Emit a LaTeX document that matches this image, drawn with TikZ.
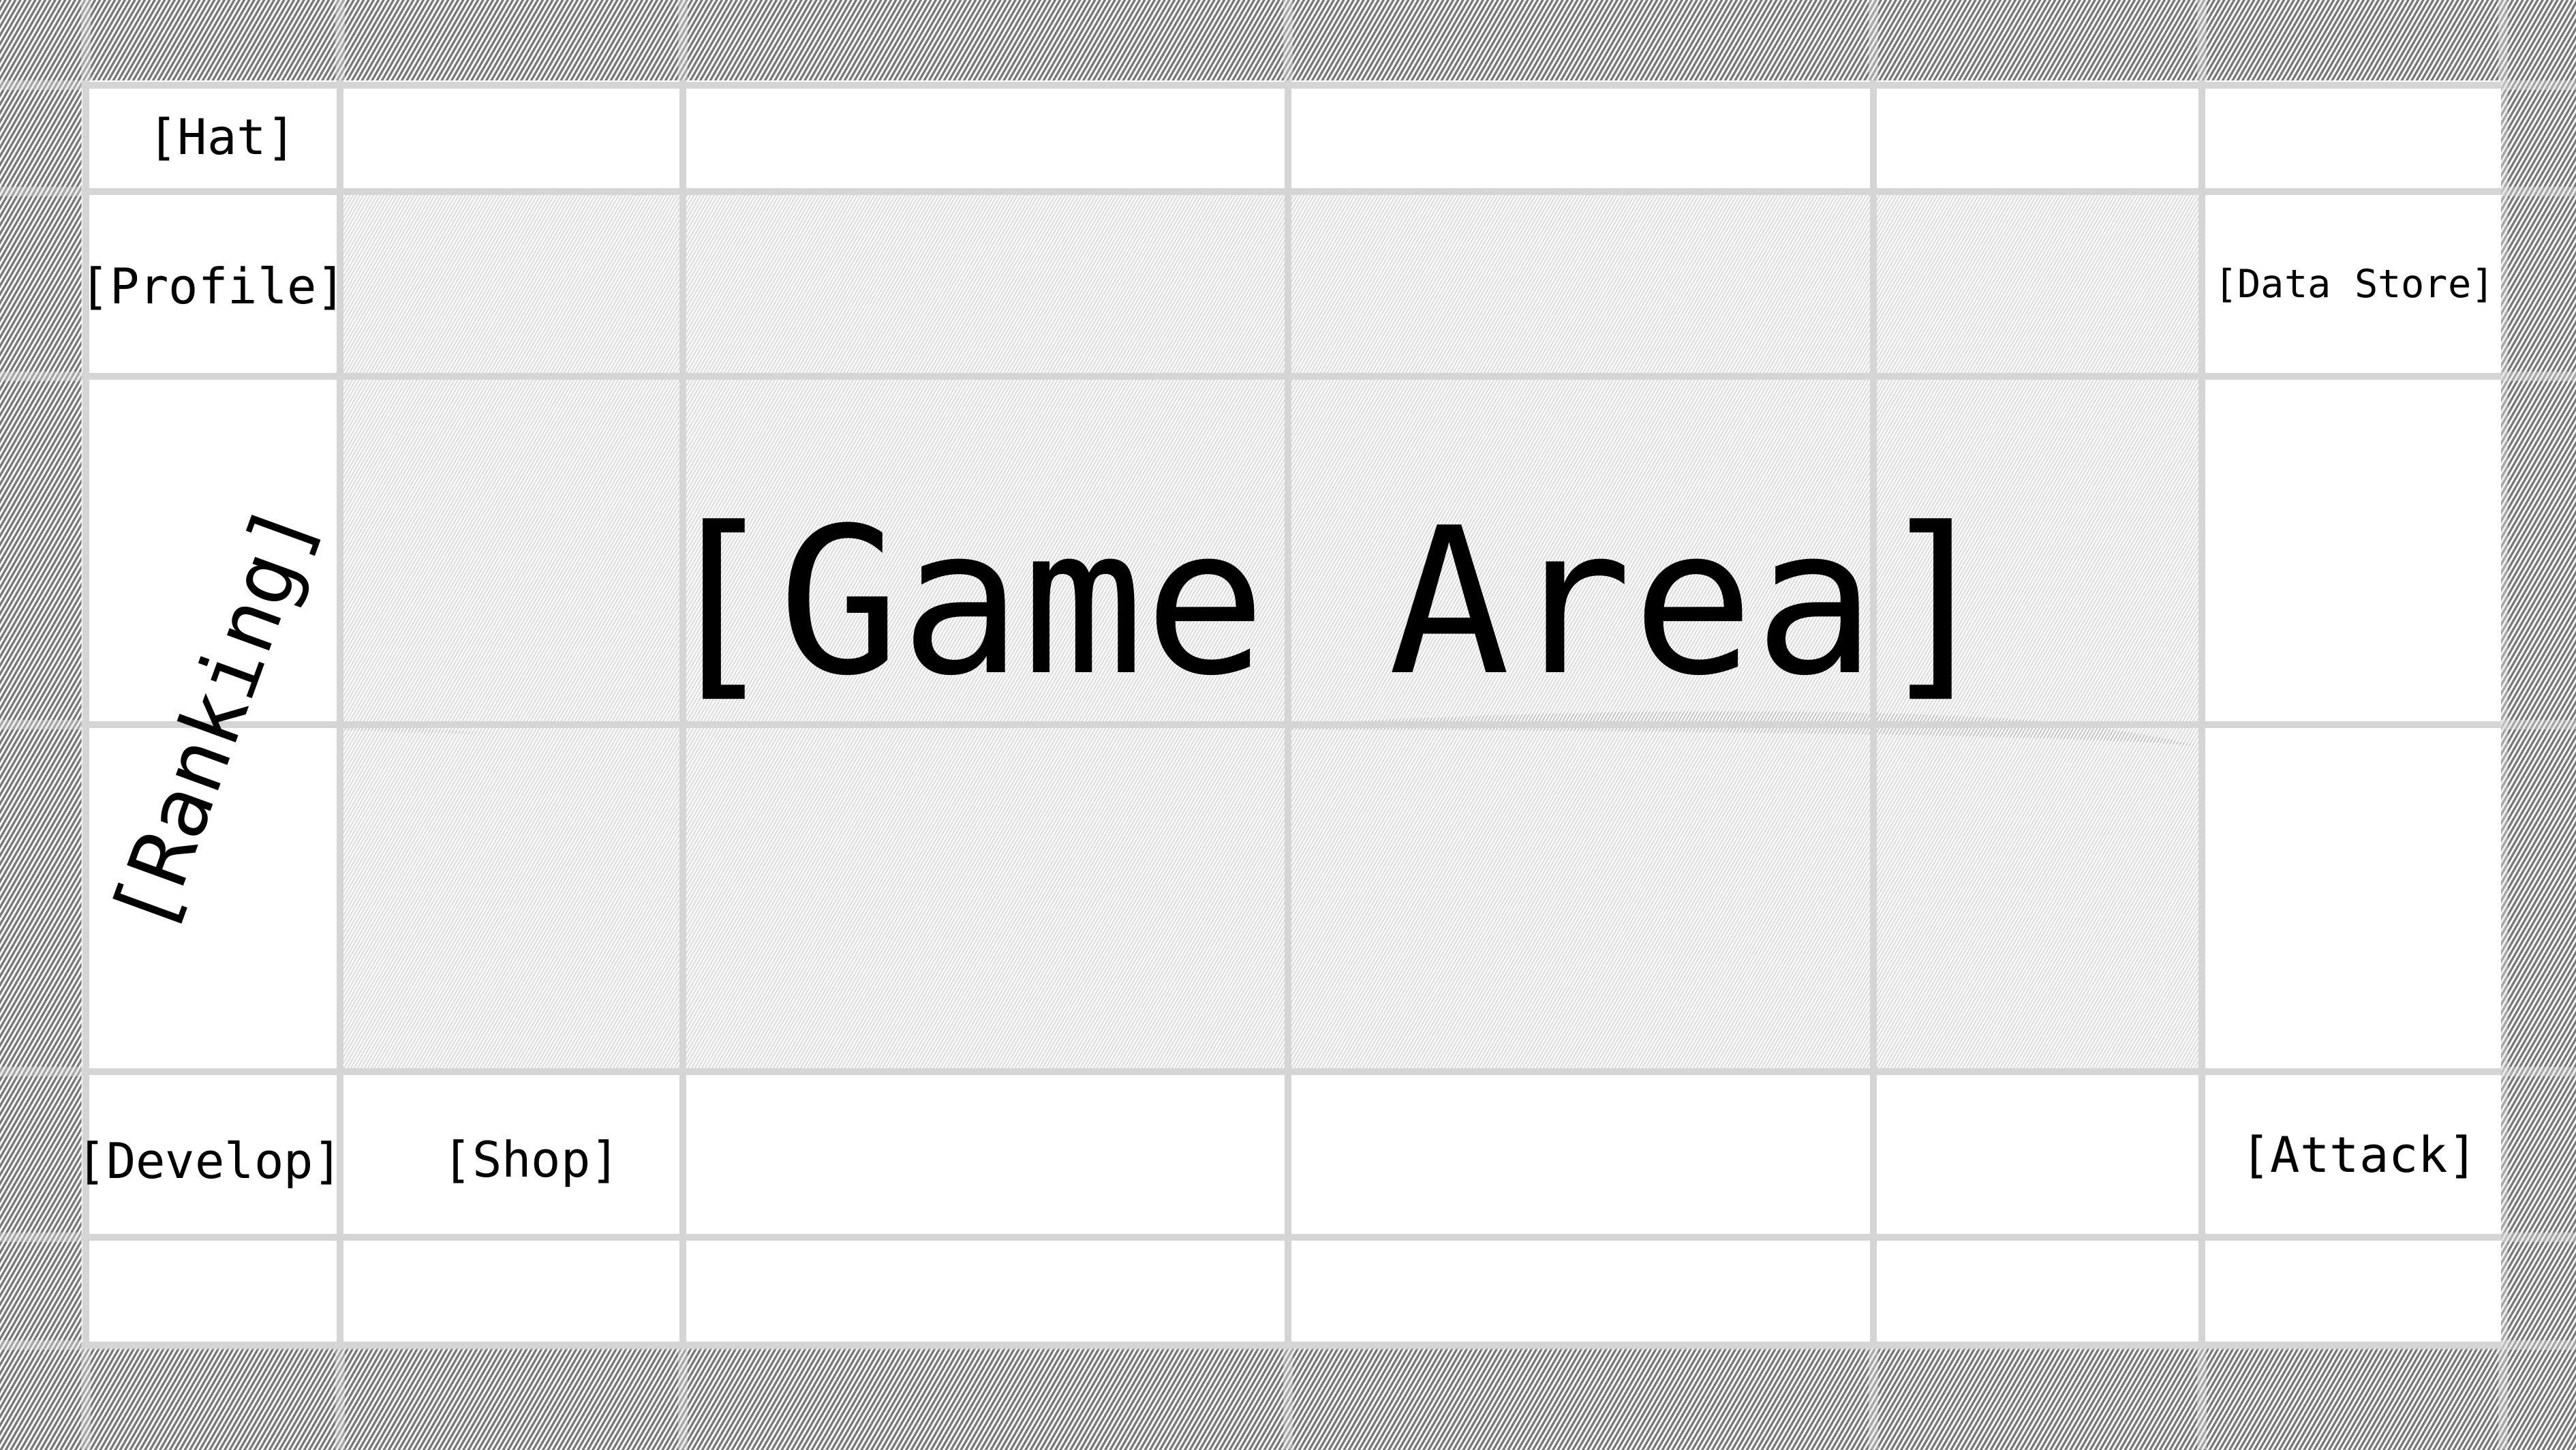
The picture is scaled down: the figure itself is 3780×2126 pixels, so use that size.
\documentclass[tikz,border=0pt]{standalone}
\usepackage{fontspec}
\newfontfamily\dvm{DejaVu Sans Mono}
\begin{document}
\begin{tikzpicture}[x=0.01cm,y=-0.01cm,
  outerhatch/.style={line width=0.94pt,color=black!52},
  innerhatch/.style={line width=0.5pt,color=gray!30},
  gridline/.style={line width=3pt,color=gray!33},
  ghostline/.style={line width=4pt,color=gray!25,opacity=0.45},
  label/.style={inner sep=0pt,anchor=base,text=black,font=\dvm}]
\useasboundingbox (0,0) rectangle (3780,2126);
\fill[white] (0,0) rectangle (3780,2126);
% outer hatching
\begin{scope}
\clip (0,0) rectangle (3780,2126);
\foreach \i in {0,...,690}{
  \draw[outerhatch] ({-1227+7.3*\i},2130) -- ++(1230,-2134);
}
\end{scope}
% ghost grid lines across the border
\foreach \gx in {126,499,1002,1890,2749,3231,3673}{
  \draw[ghostline] (\gx,0) -- (\gx,2126);
}
\foreach \gy in {125,281,552,1063,1572,1815,1973}{
  \draw[ghostline] (0,\gy) -- (3780,\gy);
}
% white panel
\fill[white] (120,118) rectangle (3670,1977);
% inner hatching (game area)
\begin{scope}
\clip (499,281) rectangle (3231,1572);
\foreach \i in {0,...,700}{
  \draw[innerhatch] ({-250+5*\i},1575) -- ++(748,-1297);
}
\end{scope}
% faint smear along the middle line
\begin{scope}
\clip (1890,1063) .. controls (2300,1040) and (2700,1036) .. (3000,1058)
      .. controls (3100,1068) and (3180,1082) .. (3222,1094)
      .. controls (3050,1078) and (2500,1072) .. (1890,1070) -- cycle;
\foreach \i in {0,...,330}{
  \draw[line width=0.5pt,color=gray!45] ({1300+5*\i},1575) -- ++(748,-1297);
}
\end{scope}
\begin{scope}
\clip (505,1063) .. controls (600,1066) and (680,1072) .. (720,1076)
      .. controls (650,1076) and (560,1073) .. (505,1071) -- cycle;
\foreach \i in {0,...,100}{
  \draw[line width=0.5pt,color=gray!40] ({0+5*\i},1575) -- ++(748,-1297);
}
\end{scope}
% panel grid lines
\begin{scope}
\clip (120,118) rectangle (3670,1977);
\foreach \gx in {126,499,1002,1890,2749,3231}{
  \draw[gridline] (\gx,118) -- (\gx,1977);
}
\foreach \gy in {125,281,552,1063,1572,1815,1973}{
  \draw[gridline] (120,\gy) -- (3670,\gy);
}
\end{scope}
% labels
\node[label] (hat) at (326,226) {\fontsize{20.5pt}{24pt}\selectfont [Hat]};
\node[label] (profile) at (313,445) {\fontsize{20.5pt}{24pt}\selectfont [Profile]};
\node[label] (datastore) at (3455,436) {\fontsize{16.2pt}{19pt}\selectfont [Data Store]};
\node[label] (develop) at (308,1728) {\fontsize{20.5pt}{24pt}\selectfont [Develop]};
\node[label] (shop) at (780,1726) {\fontsize{20.5pt}{24pt}\selectfont [Shop]};
\node[label] (attack) at (3462,1719) {\fontsize{20.5pt}{24pt}\selectfont [Attack]};
\node[label] (gamearea) at (1948,986) {\fontsize{84.5pt}{100pt}\selectfont [Game Area]};
\node[inner sep=0pt,anchor=center,font=\dvm,rotate=70] (ranking) at (323,1057) {\fontsize{34.3pt}{40pt}\selectfont [Ranking]};
\end{tikzpicture}
\end{document}
